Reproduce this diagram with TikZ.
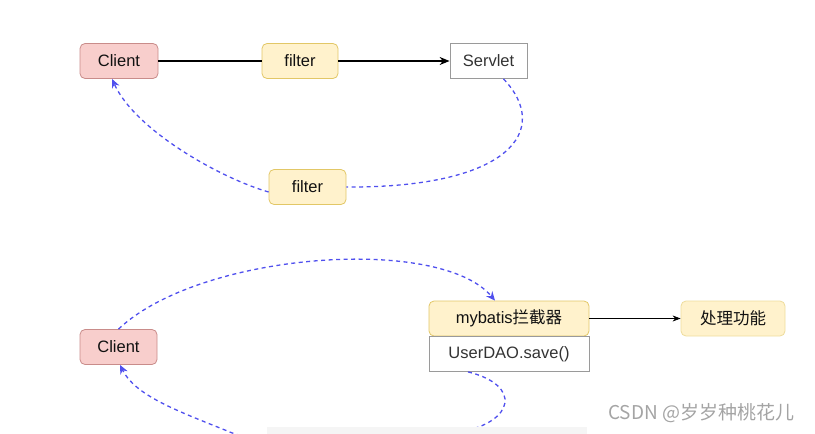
\documentclass[tikz,border=0pt]{standalone}
\usepackage{fontspec}
\setmainfont{Liberation Sans}
\newfontfamily\cjk{Noto Sans CJK SC}
\usetikzlibrary{arrows.meta}
\definecolor{redfill}{HTML}{F8CECC}
\definecolor{redline}{HTML}{C98C8A}
\definecolor{yelfill}{HTML}{FFF2CC}
\definecolor{yelline}{HTML}{E2C766}
\definecolor{yelline2}{HTML}{EEDC9C}
\definecolor{grayline}{HTML}{9A9A9A}
\definecolor{flow}{HTML}{5050EE}
\definecolor{txt}{HTML}{111111}
\definecolor{wm}{HTML}{A4A4A4}
\begin{document}
\begin{tikzpicture}[x=1pt,y=-1pt,
  box/.style={minimum height=35pt, inner sep=0pt, font=\fontsize{16.5}{19}\selectfont, text=txt, line width=0.8pt},
  redbox/.style={box, draw=redline, fill=redfill, rounded corners=5pt, minimum width=78pt},
  yelbox/.style={box, draw=yelline, fill=yelfill, rounded corners=5pt, minimum width=76pt},
  whitebox/.style={box, draw=grayline, fill=white, text=black!80},
  solidarrow/.style={line width=1.2pt, -{Stealth[length=10pt,width=8pt]}},
  flowline/.style={draw=flow, line width=1.3pt, dash pattern=on 4pt off 3.5pt},
  flowarrow/.style={flowline, -{Stealth[length=9pt,width=8pt,fill=flow]}}]
\useasboundingbox (0,0) rectangle (815,434);
\begin{scope}
\clip (0,0) rectangle (815,434);
% top row
\node[redbox] (c1) at (119,61) {Client};
\node[yelbox] (f1) at (300,61) {filter};
\node[whitebox, minimum width=77pt] (s1) at (488.5,61) {Servlet};
\node[yelbox, minimum width=77pt] (f2) at (307.5,187) {filter};
\draw[line width=1.2pt] (c1) -- (f1);
\draw[solidarrow] (f1) -- (s1);
\draw[flowline] ([xshift=15pt]s1.south) .. controls (552,130) and (510,188) .. (f2.east);
\draw[flowarrow] ([yshift=-5pt]f2.west) .. controls (220,178) and (135,130) .. ([xshift=-7pt]c1.south);
% bottom row
\node[redbox, minimum width=77pt] (c2) at (118.5,347) {Client};
\node[box, draw=yelline, fill=yelfill, minimum width=160pt, rounded corners=5pt] (mb) at (509,318.5) {mybatis{\cjk 拦截器}};
\node[whitebox, minimum width=160pt, minimum height=35pt] (ud) at (509,354) {UserDAO.save()};
\node[box, draw=yelline2, fill=yelfill, minimum width=104pt, rounded corners=5pt] (cl) at (733,318.5) {\cjk 处理功能};
\draw[line width=0.8pt, -{Stealth[length=8pt,width=6pt]}] (mb) -- (cl);
\draw[flowarrow] (c2.north) .. controls (200,252) and (440,235) .. ([xshift=-14pt]mb.north);
\draw[flowarrow] ([xshift=-41pt]ud.south) .. controls (522,385) and (515,422) .. (460,432)
   .. controls (400,443) and (280,455) .. (225,430)
   .. controls (175,410) and (135,395) .. ([xshift=1.5pt]c2.south);
\fill[black!4] (267,427) rectangle (587,434);
\node[text=wm, font=\cjk\fontsize{19}{21}\selectfont, anchor=west, inner sep=0pt] (wmk) at (608,413) {CSDN @岁岁种桃花儿};
\end{scope}
\end{tikzpicture}
\end{document}
